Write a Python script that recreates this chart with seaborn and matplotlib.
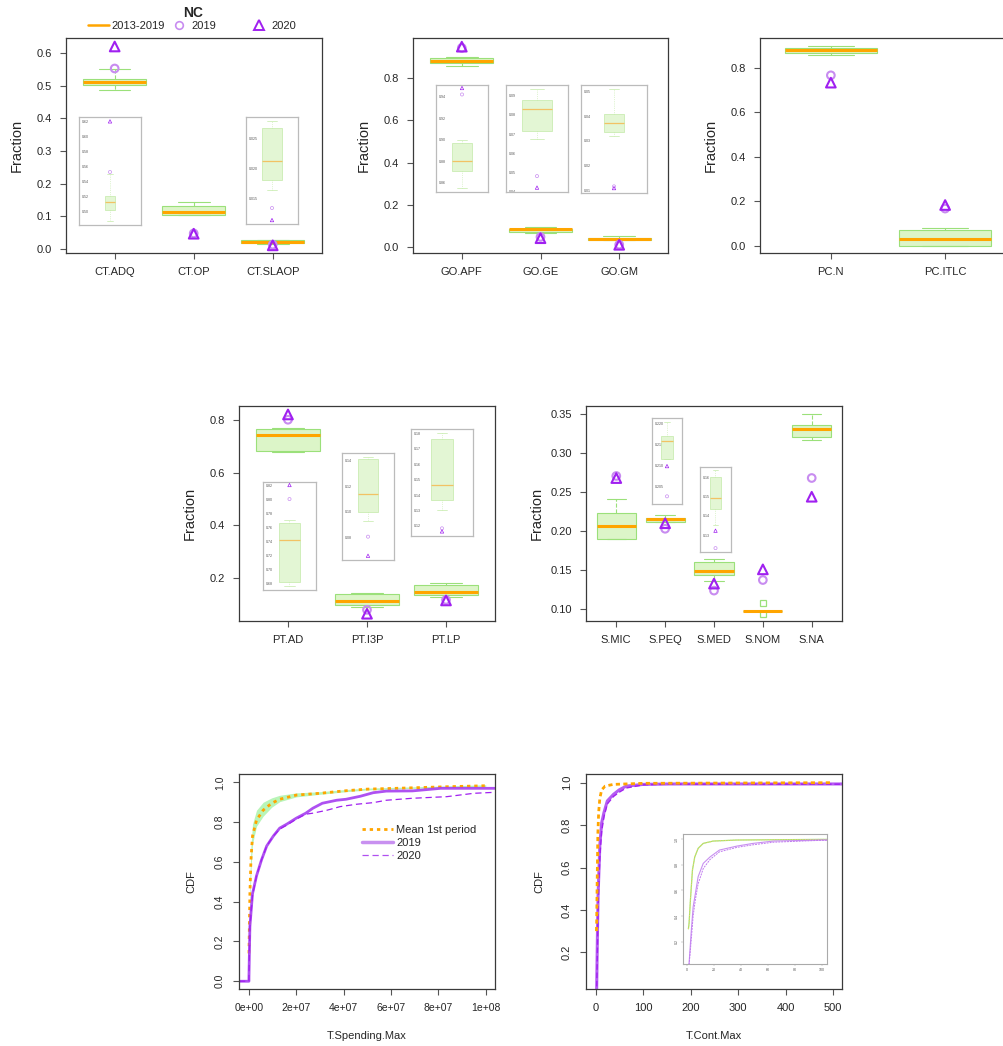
import matplotlib
matplotlib.use("Agg")
import matplotlib.pyplot as plt
import seaborn as sns
from matplotlib.lines import Line2D

# ---------------- données ----------------
# CT
ct_labels = ["CT.ADQ", "CT.OP", "CT.SLAOP"]
ct_lo = [0.4876, 0.104, 0.0164]
ct_q1 = [0.5018, 0.104, 0.0180]
ct_med = [0.5128, 0.112, 0.0212]
ct_q3 = [0.5208, 0.1306, 0.0266]
ct_hi = [0.550, 0.1439, 0.0278]
ct_2019 = [0.5527, 0.048, 0.0134]
ct_2020 = [0.620, 0.047, 0.0114]

# GO
go_labels = ["GO.APF", "GO.GE", "GO.GM"]
go_lo = [0.855, 0.0672, 0.0321]
go_q1 = [0.8713, 0.0717, 0.0336]
go_med = [0.880, 0.0832, 0.0373]
go_q3 = [0.8966, 0.0877, 0.0408]
go_hi = [0.8995, 0.0933, 0.0512]
go_2019 = [0.942, 0.048, 0.0115]
go_2020 = [0.948, 0.042, 0.0108]

# PC
pc_labels = ["PC.N", "PC.ITLC"]
pc_lo = [0.857, 0.0]
pc_q1 = [0.866, 0.0]
pc_med = [0.8814, 0.030]
pc_q3 = [0.889, 0.072]
pc_hi = [0.898, 0.0796]
pc_2019 = [0.767, 0.167]
pc_2020 = [0.734, 0.183]

# PT
pt_labels = ["PT.AD", "PT.I3P", "PT.LP"]
pt_lo = [0.6765, 0.0933, 0.130]
pt_q1 = [0.682, 0.100, 0.137]
pt_med = [0.741, 0.1141, 0.1467]
pt_q3 = [0.766, 0.1413, 0.1765]
pt_hi = [0.7705, 0.1426, 0.1807]
pt_2019 = [0.800, 0.0808, 0.1183]
pt_2020 = [0.820, 0.066, 0.1163]

# S
s_labels = ["S.MIC", "S.PEQ", "S.MED", "S.NOM", "S.NA"]
s_lo = [0.1892, 0.2115, 0.1355, 0.0974, 0.3166]
s_q1 = [0.1892, 0.2115, 0.1433, 0.0974, 0.3204]
s_med = [0.2063, 0.2158, 0.149, 0.0974, 0.3311]
s_q3 = [0.2226, 0.217, 0.160, 0.0974, 0.3358]
s_hi = [0.2407, 0.2202, 0.1635, 0.0974, 0.350]
s_out = [[], [], [], [0.1077, 0.0936], []]
s_2019 = [0.2707, 0.2028, 0.1233, 0.1369, 0.2681]
s_2020 = [0.268, 0.2099, 0.1323, 0.1506, 0.244]

# CDF T.Spending.Max
sp_mean_x = [0, 0.4e6, 0.85e6, 1.5e6, 3.2e6, 6e6, 9.6e6, 1.3e7, 2e7, 3e7, 4.1e7, 5e7, 6.2e7, 8.35e7, 1e8]
sp_mean_y = [0.14, 0.44, 0.61, 0.73, 0.81, 0.86, 0.895, 0.915, 0.936, 0.945, 0.958, 0.966, 0.970, 0.978, 0.983]
sp_band_lo = [0.10, 0.38, 0.56, 0.69, 0.78, 0.83, 0.875, 0.903, 0.927, 0.940, 0.953, 0.962, 0.967, 0.975, 0.978]
sp_band_hi = [0.18, 0.52, 0.68, 0.79, 0.86, 0.90, 0.922, 0.935, 0.947, 0.953, 0.964, 0.971, 0.975, 0.982, 0.988]
sp19_x = [-4.2e6, 0, 0, 0.4e6, 1.5e6, 3.2e6, 5.3e6, 7.5e6, 1.03e7, 1.3e7, 1.6e7, 2e7, 2.4e7, 2.7e7,
          3.1e7, 3.7e7, 4.1e7, 4.7e7, 5.25e7, 5.8e7, 6.9e7, 8.1e7, 1e8, 1.04e8]
sp19_y = [0, 0, 0.02, 0.275, 0.44, 0.53, 0.61, 0.68, 0.73, 0.77, 0.79, 0.82, 0.845, 0.87,
          0.895, 0.91, 0.915, 0.93, 0.948, 0.956, 0.957, 0.97, 0.97, 0.97]
sp20_x = [-4.2e6, 0, 0, 0.4e6, 1.5e6, 3.2e6, 5.3e6, 7.5e6, 1.03e7, 1.3e7, 1.6e7, 2e7, 2.4e7, 2.7e7,
          3.3e7, 3.85e7, 4.55e7, 5.25e7, 5.8e7, 6.9e7, 8.35e7, 9.5e7, 1.04e8]
sp20_y = [0, 0, 0.02, 0.27, 0.43, 0.53, 0.61, 0.68, 0.73, 0.765, 0.785, 0.815, 0.84, 0.845,
          0.86, 0.878, 0.89, 0.898, 0.91, 0.92, 0.928, 0.945, 0.95]
sp_xticklabels = ["0e+00", "2e+07", "4e+07", "6e+07", "8e+07", "1e+08"]

# CDF T.Cont.Max
co_mean_x = [1.0, 1.5, 2.5, 4, 5.7, 8.2, 12, 19.4, 36.7, 100, 500]
co_mean_y = [0.30, 0.343, 0.525, 0.758, 0.86, 0.927, 0.966, 0.984, 0.992, 0.997, 1.0]
co19_x = [0.5, 1.5, 3, 4.5, 6.2, 8.2, 12, 17, 24, 37, 49, 64, 100, 156, 500, 519]
co19_y = [0.0, 0.03, 0.265, 0.47, 0.577, 0.706, 0.81, 0.86, 0.914, 0.945, 0.966, 0.984, 0.992, 0.994, 0.994, 0.994]
co20_x = [0.5, 1.5, 3, 4.5, 6.2, 8.2, 12, 17, 24, 37, 49, 64, 100, 156, 500, 519]
co20_y = [0.0, 0.02, 0.20, 0.40, 0.53, 0.65, 0.77, 0.84, 0.90, 0.935, 0.955, 0.975, 0.99, 0.993, 0.993, 0.993]

# ---------------- style ----------------
sns.set_style("ticks")
plt.rcParams['font.family'] = ['Liberation Sans', 'DejaVu Sans']

ORANGE = "#ffa500"
GREEN_E = "#9be07a"
GREEN_F = "#dcf5c8"
P19 = "#c88cf0"
P20 = "#a020f0"

W, H = 1004, 1046
fig = plt.figure(figsize=(W / 100, H / 100), dpi=100)


def px_axes(x0, y0, x1, y1):
    return fig.add_axes([x0 / W, 1 - y1 / H, (x1 - x0) / W, (y1 - y0) / H])


def style_main(ax):
    for sp in ax.spines.values():
        sp.set_visible(True)
        sp.set_color("#3a3a3a")
        sp.set_linewidth(0.9)
    ax.tick_params(axis="both", direction="out", length=4.5, width=0.8, color="#555555",
                   labelsize=8, pad=5.5, top=False, right=False)


def stats_of(labels, lo, q1, med, q3, hi, out=None):
    res = []
    for i, lab in enumerate(labels):
        res.append(dict(label=lab, whislo=lo[i], q1=q1[i], med=med[i], q3=q3[i], whishi=hi[i],
                        fliers=out[i] if out else []))
    return res


def draw_box(ax, stats, pos, width, inset=False):
    fc, ec = (GREEN_F, GREEN_E) if not inset else ("#e3f6d4", "#c3eaa8")
    mc = ORANGE if not inset else "#f2c264"
    lw = 0.8 if not inset else 0.5
    ax.bxp(stats, positions=pos, widths=width, capwidths=width * 0.5, patch_artist=True,
           boxprops=dict(facecolor=fc, edgecolor=ec, linewidth=lw),
           medianprops=dict(color=mc, linewidth=2.2 if not inset else 0.9, solid_capstyle="butt"),
           whiskerprops=dict(color=ec, linewidth=lw, linestyle="--" if not inset else ":"),
           capprops=dict(color=ec, linewidth=lw),
           flierprops=dict(marker="s", markersize=4.8, markerfacecolor="none",
                           markeredgecolor=GREEN_E, markeredgewidth=0.9))


def draw_points(ax, x, y19, y20, big=True):
    s19, s20, lw = (30, 48, 1.5) if big else (5, 6, 0.5)
    sns.scatterplot(x=x, y=y19, ax=ax, marker="o", s=s19, facecolor="none",
                    edgecolor=P19, linewidth=lw, zorder=5, legend=False)
    sns.scatterplot(x=x, y=y20, ax=ax, marker="^", s=s20, facecolor="none",
                    edgecolor=P20, linewidth=lw, zorder=6, legend=False)


def box_panel(rect, labels, lo, q1, med, q3, hi, y19, y20, ylim, yticks, fmt, out=None):
    ax = px_axes(*rect)
    n = len(labels)
    pos = list(range(1, n + 1))
    draw_box(ax, stats_of(labels, lo, q1, med, q3, hi, out), pos, 0.8)
    draw_points(ax, pos, y19, y20)
    ax.set_xlim(0.38, n + 0.62)
    ax.set_ylim(*ylim)
    ax.set_xticks(pos)
    ax.set_xticklabels(labels)
    ax.set_yticks(yticks)
    ax.set_yticklabels([fmt % v for v in yticks])
    ax.set_xlabel("")
    ax.set_ylabel("Fraction", fontsize=10.5)
    ax.yaxis.set_label_coords(-42 / 256, 0.5)
    style_main(ax)
    return ax


def box_inset(rect, i, labels, lo, q1, med, q3, hi, y19, y20, ylim, yticks, fmt, width):
    ax = px_axes(*rect)
    st = stats_of(labels, lo, q1, med, q3, hi)[i]
    draw_box(ax, [st], [1], width, inset=True)
    draw_points(ax, [1], [y19[i]], [y20[i]], big=False)
    ax.set_xlim(0.5, 1.5)
    ax.set_ylim(*ylim)
    ax.set_xticks([])
    ax.set_yticks(yticks)
    ax.set_yticklabels([fmt % v for v in yticks])
    for sp in ax.spines.values():
        sp.set_visible(True)
        sp.set_color("#bbbbbb")
        sp.set_linewidth(0.9)
    ax.tick_params(axis="y", direction="in", length=1, width=0.3, color="#999999",
                   labelsize=2.6, labelcolor="#555555", pad=-2)
    for t in ax.get_yticklabels():
        t.set_ha("left")
    ax.set_xlabel("")
    ax.set_ylabel("")
    return ax


# ---------------- panneau CT ----------------
ct_args = (ct_labels, ct_lo, ct_q1, ct_med, ct_q3, ct_hi, ct_2019, ct_2020)
box_panel((65.7, 38, 321.7, 253), *ct_args, (-0.012, 0.646),
          [0.0, 0.1, 0.2, 0.3, 0.4, 0.5, 0.6], "%.1f")
box_inset((79, 117, 141, 225), 0, *ct_args, (0.4823, 0.6258),
          [0.50, 0.52, 0.54, 0.56, 0.58, 0.60, 0.62], "%.2f", 0.17)
box_inset((246, 117, 298, 224), 2, *ct_args, (0.01075, 0.02848),
          [0.015, 0.020, 0.025], "%.3f", 0.38)

# ---------------- panneau GO ----------------
go_args = (go_labels, go_lo, go_q1, go_med, go_q3, go_hi, go_2019, go_2020)
box_panel((413, 38, 668, 253), *go_args, (-0.028, 0.989), [0.0, 0.2, 0.4, 0.6, 0.8], "%.1f")
box_inset((436, 85, 488, 192), 0, *go_args, (0.8514, 0.9508),
          [0.86, 0.88, 0.90, 0.92, 0.94], "%.2f", 0.38)
box_inset((506, 85, 568, 192), 1, *go_args, (0.0397, 0.0956),
          [0.04, 0.05, 0.06, 0.07, 0.08, 0.09], "%.2f", 0.48)
box_inset((581, 85, 647, 193), 2, *go_args, (0.0088, 0.0527),
          [0.01, 0.02, 0.03, 0.04, 0.05], "%.2f", 0.30)

# ---------------- panneau PC ----------------
pc_args = (pc_labels, pc_lo, pc_q1, pc_med, pc_q3, pc_hi, pc_2019, pc_2020)
box_panel((760, 38, 1016, 253), *pc_args, (-0.033, 0.935), [0.0, 0.2, 0.4, 0.6, 0.8], "%.1f")

# ---------------- panneau PT ----------------
pt_args = (pt_labels, pt_lo, pt_q1, pt_med, pt_q3, pt_hi, pt_2019, pt_2020)
box_panel((239, 406, 495, 621), *pt_args, (0.0385, 0.852), [0.2, 0.4, 0.6, 0.8], "%.1f")
box_inset((263, 482, 316, 590), 0, *pt_args, (0.6705, 0.8243),
          [0.68, 0.70, 0.72, 0.74, 0.76, 0.78, 0.80, 0.82], "%.2f", 0.38)
box_inset((342, 453, 394, 560), 1, *pt_args, (0.0627, 0.1457),
          [0.08, 0.10, 0.12, 0.14], "%.2f", 0.40)
box_inset((411, 429, 473, 536), 2, *pt_args, (0.1133, 0.183),
          [0.12, 0.13, 0.14, 0.15, 0.16, 0.17, 0.18], "%.2f", 0.34)

# ---------------- panneau S ----------------
s_args = (s_labels, s_lo, s_q1, s_med, s_q3, s_hi, s_2019, s_2020)
box_panel((586, 406, 842, 621), *s_args, (0.0842, 0.3607),
          [0.10, 0.15, 0.20, 0.25, 0.30, 0.35], "%.2f", out=s_out)
box_inset((652, 418, 682, 504), 1, *s_args, (0.201, 0.2212),
          [0.205, 0.210, 0.215, 0.220], "%.3f", 0.38)
box_inset((700, 467, 731, 552), 2, *s_args, (0.1213, 0.1652),
          [0.13, 0.14, 0.15, 0.16], "%.2f", 0.38)

# ---------------- CDF T.Spending.Max ----------------
ax6 = px_axes(239, 774, 495, 989)
ax6.fill_between(sp_mean_x, sp_band_lo, sp_band_hi, color="#b8f5b8", lw=0)
sns.lineplot(x=sp_mean_x, y=sp_mean_y, ax=ax6, color=ORANGE, lw=2, linestyle=(0, (1.2, 1.4)),
             estimator=None, sort=False)
sns.lineplot(x=sp19_x, y=sp19_y, ax=ax6, color="#a53ef0", lw=2.0, alpha=0.9,
             estimator=None, sort=False)
sns.lineplot(x=sp20_x, y=sp20_y, ax=ax6, color=P20, lw=0.9, linestyle=(0, (5, 3)),
             estimator=None, sort=False)
ax6.set_xlim(-4.2e6, 1.039e8)
ax6.set_ylim(-0.039, 1.042)
ax6.set_xticks([0, 2e7, 4e7, 6e7, 8e7, 1e8])
ax6.set_xticklabels(sp_xticklabels)
ax6.set_yticks([0, 0.2, 0.4, 0.6, 0.8, 1.0])
ax6.set_yticklabels(["0.0", "0.2", "0.4", "0.6", "0.8", "1.0"], rotation=90, va="center")
ax6.set_xlabel("T.Spending.Max", fontsize=8)
ax6.set_ylabel("CDF", fontsize=8)
ax6.xaxis.set_label_coords(0.5, -42 / 215)
ax6.yaxis.set_label_coords(-43 / 256, 0.5)
style_main(ax6)
ax6.tick_params(labelsize=7.5)
leg_h = [Line2D([], [], color=ORANGE, lw=2, linestyle=(0, (1.2, 1.4))),
         Line2D([], [], color="#c890f0", lw=2.5),
         Line2D([], [], color="#b050f0", lw=0.9, linestyle=(0, (5, 3)))]
ax6.legend(leg_h, ["Mean 1st period", "2019", "2020"], loc="center left",
           bbox_to_anchor=((362 - 239) / 256, 1 - (843 - 774) / 215), frameon=False,
           fontsize=8, handlelength=2.8, handletextpad=0.3, labelspacing=0.3,
           borderpad=0, borderaxespad=0)

# ---------------- CDF T.Cont.Max ----------------
ax7 = px_axes(586, 774, 842, 989)
sns.lineplot(x=co19_x, y=co19_y, ax=ax7, color="#a840f0", lw=2.2, alpha=0.85,
             estimator=None, sort=False)
sns.lineplot(x=co20_x, y=co20_y, ax=ax7, color=P20, lw=1.0, linestyle=(0, (4, 2)),
             estimator=None, sort=False)
sns.lineplot(x=co_mean_x, y=co_mean_y, ax=ax7, color=ORANGE, lw=2, linestyle=(0, (1.5, 1.2)),
             estimator=None, sort=False)
ax7.set_xlim(-21, 519)
ax7.set_ylim(0.027, 1.041)
ax7.set_xticks([0, 100, 200, 300, 400, 500])
ax7.set_yticks([0.2, 0.4, 0.6, 0.8, 1.0])
ax7.set_yticklabels(["0.2", "0.4", "0.6", "0.8", "1.0"], rotation=90, va="center")
ax7.set_xlabel("T.Cont.Max", fontsize=8)
ax7.set_ylabel("CDF", fontsize=8)
ax7.xaxis.set_label_coords(0.5, -42 / 215)
ax7.yaxis.set_label_coords(-42 / 256, 0.5)
style_main(ax7)
ax7.tick_params(labelsize=8)

ax7i = px_axes(683, 834, 827, 964)
sns.lineplot(x=co_mean_x, y=co_mean_y, ax=ax7i, color="#9ee66e", lw=0.9,
             estimator=None, sort=False)
sns.lineplot(x=co_mean_x, y=co_mean_y, ax=ax7i, color="#ffc870", lw=0.7, linestyle=":",
             estimator=None, sort=False)
sns.lineplot(x=co19_x, y=co19_y, ax=ax7i, color="#c890f0", lw=0.8,
             estimator=None, sort=False)
sns.lineplot(x=co20_x, y=co20_y, ax=ax7i, color="#c078f0", lw=0.7, linestyle=(0, (2, 1)),
             estimator=None, sort=False)
ax7i.set_xlim(-3, 103.7)
ax7i.set_ylim(0.026, 1.039)
ax7i.set_xticks([0, 20, 40, 60, 80, 100])
ax7i.set_yticks([0.2, 0.4, 0.6, 0.8, 1.0])
ax7i.set_yticklabels(["0.2", "0.4", "0.6", "0.8", "1.0"], rotation=90, va="center")
ax7i.set_xlabel("")
ax7i.set_ylabel("")
for sp in ax7i.spines.values():
    sp.set_visible(True)
    sp.set_color("#aaaaaa")
    sp.set_linewidth(0.8)
ax7i.tick_params(axis="both", direction="out", length=1.2, width=0.3, color="#999999",
                 labelsize=2.6, labelcolor="#555555", pad=1.5)

# ---------------- titre et légende ----------------
fig.text(193 / W, 1 - 13 / H, "NC", fontsize=10, fontweight="bold", ha="center", va="center")
top_items = [
    (88, Line2D([], [], color=ORANGE, lw=1.8), "2013-2019"),
    (168.5, Line2D([], [], marker="o", ls="none", mfc="none", mec=P19, ms=5.5, mew=1.2), "2019"),
    (248.5, Line2D([], [], marker="^", ls="none", mfc="none", mec=P20, ms=6.5, mew=1.4), "2020"),
]
for x0, h, lab in top_items:
    fig.legend([h], [lab], loc="center left", bbox_to_anchor=(x0 / W, 1 - 25.7 / H),
               frameon=False, fontsize=8, handlelength=1.9, handletextpad=0.2,
               borderpad=0, borderaxespad=0)

fig.savefig("out.png", dpi=100)
